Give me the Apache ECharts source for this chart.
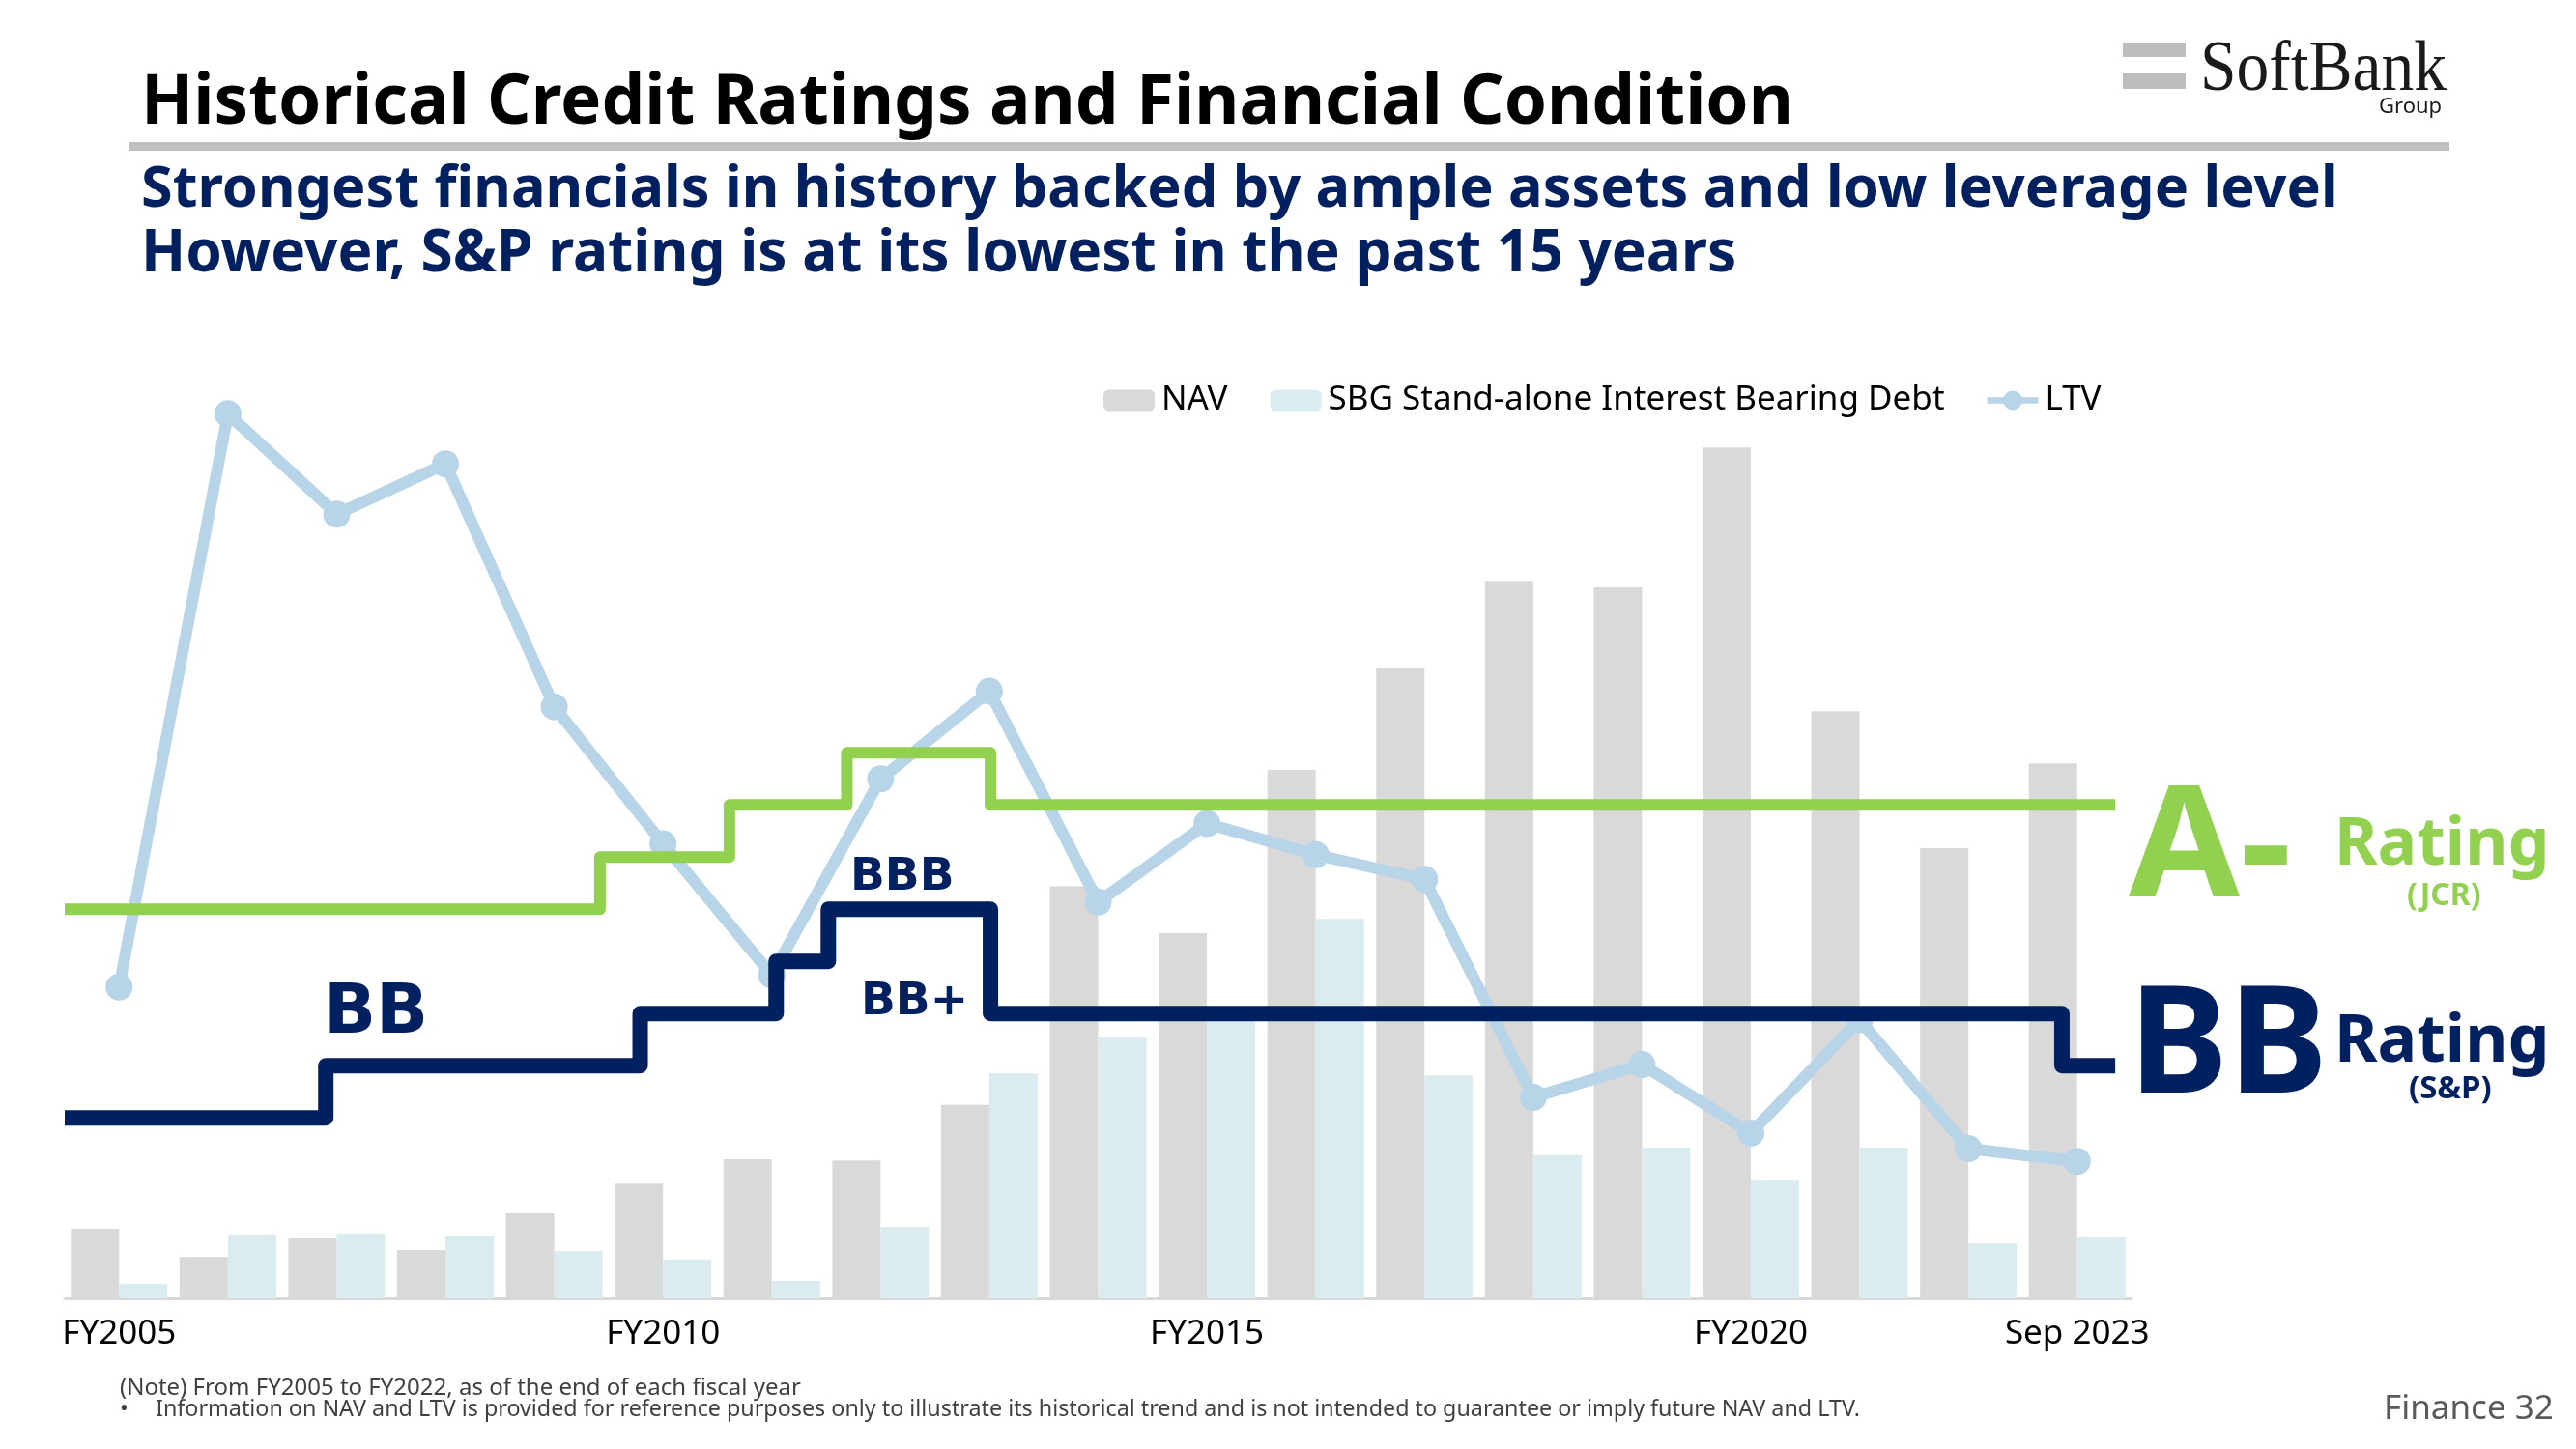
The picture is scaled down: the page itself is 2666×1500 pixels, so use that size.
<!DOCTYPE html>
<html>
<head>
<meta charset="utf-8">
<script src="https://cdn.jsdelivr.net/npm/echarts@6/dist/echarts.min.js"></script>
<style>
  html, body { margin: 0; padding: 0; background: #ffffff; }
  #chart { width: 2666px; height: 1500px; }
</style>
</head>
<body>
<div id="chart"></div>
<script>
// ---- Data ----
const categories = ['FY2005','FY2006','FY2007','FY2008','FY2009','FY2010','FY2011','FY2012','FY2013','FY2014',
                    'FY2015','FY2016','FY2017','FY2018','FY2019','FY2020','FY2021','FY2022','Sep 2023'];
const tickLabels = ['FY2005','FY2010','FY2015','FY2020','Sep 2023'];
// NAV and stand-alone debt (trillion yen, estimated)
const navValues  = [2.13, 1.27, 1.84, 1.48, 2.61, 3.52, 4.27, 4.23, 5.93, 12.64,
                    11.2, 16.21, 19.32, 22.01, 21.81, 26.1, 18.01, 13.81, 16.41];
const debtValues = [0.44, 1.96, 1.99, 1.90, 1.45, 1.19, 0.53, 2.19, 6.9, 8.0,
                    8.95, 11.64, 6.84, 4.39, 4.62, 3.61, 4.62, 1.69, 1.87];
// LTV (estimated, arbitrary % scale)
const ltvValues  = [34.1, 96.9, 85.9, 91.4, 64.8, 49.8, 35.4, 56.9, 66.5, 43.4,
                    52.0, 48.6, 45.9, 22.0, 25.6, 18.1, 30.5, 16.4, 15.0];
// Rating notch scale
const ratingScale = ['BB-','BB','BB+','BBB-','BBB','BBB+','A-','A'];
// JCR rating history (position in category units, rating from that point)
const jcrSteps   = [-0.5, 4.42, 5.61, 6.69, 8.01, 18.35];
const jcrRatings = ['BBB','BBB+','A-','A','A-','A-'];
// S&P rating history
const spSteps    = [-0.5, 1.90, 4.79, 6.04, 6.52, 8.01, 17.86, 18.35];
const spRatings  = ['BB-','BB','BB+','BBB-','BBB','BB+','BB','BB'];

// ---- Build ----
const notch = r => ratingScale.indexOf(r) + 1;
const jcrData = jcrSteps.map((x, i) => [x, notch(jcrRatings[i])]);
const spData  = spSteps.map((x, i) => [x, notch(spRatings[i])]);

const NAVY = '#002060';
const GREEN = '#92d050';
const LTVC = '#b7d4e8';
const SANS = '"Noto Sans", "DejaVu Sans", sans-serif';
const WIDE = '"DejaVu Sans", "Noto Sans", sans-serif';

const chart = echarts.init(document.getElementById('chart'), null, { renderer: 'canvas' });

function txt(text, x, y, size, color, weight, family, extra) {
  return Object.assign({
    type: 'text', x: x, y: y, silent: true,
    style: { text: text, x: 0, y: 0, fill: color, font: (weight || 'normal') + ' ' + size + 'px ' + (family || SANS),
             textAlign: 'left', textVerticalAlign: 'middle', verticalAlign: 'middle' }
  }, extra || {});
}

const ltvIcon = 'path://M0,8 L64,8 L64,16 L0,16 Z M32,0 A12,12 0 1 1 31.99,0 Z';

const option = {
  animation: false,
  backgroundColor: '#ffffff',
  grid: { left: 67, right: 460, top: 399, bottom: 156, containLabel: false },
  legend: {
    left: 1137, top: 392,
    itemWidth: 53, itemHeight: 22, itemGap: 44,
    textStyle: { fontFamily: SANS, fontSize: 35, color: '#000000', padding: [0, 0, 0, 2] },
    data: [
      { name: 'NAV' },
      { name: 'SBG Stand-alone Interest Bearing Debt' },
      { name: 'LTV', icon: ltvIcon, itemStyle: { color: LTVC } }
    ]
  },
  xAxis: [
    {
      type: 'category', data: categories, gridIndex: 0,
      axisLine: { show: true, lineStyle: { color: '#d9d9d9', width: 3 } },
      axisTick: { show: false },
      axisLabel: {
        interval: 0, margin: 20, color: '#000000', fontFamily: SANS, fontSize: 35,
        formatter: v => tickLabels.indexOf(v) >= 0 ? v : ''
      },
      splitLine: { show: false }
    },
    { type: 'value', min: -0.5, max: 18.5, show: false, gridIndex: 0 }
  ],
  yAxis: [
    { type: 'value', min: 0, max: 28, show: false, splitLine: { show: false } },
    { type: 'value', min: 0, max: 100, show: false, splitLine: { show: false } },
    { type: 'value', min: -2.46, max: 15.04, show: false, splitLine: { show: false } }
  ],
  series: [
    {
      name: 'NAV', type: 'bar', data: navValues, barWidth: 50, barGap: '0%',
      itemStyle: { color: '#d9d9d9' }, z: 1, silent: true
    },
    {
      name: 'SBG Stand-alone Interest Bearing Debt', type: 'bar', data: debtValues, barWidth: 50, barGap: '0%',
      itemStyle: { color: '#daecef' }, z: 1, silent: true
    },
    {
      name: 'LTV', type: 'line', data: ltvValues, yAxisIndex: 1,
      symbol: 'circle', symbolSize: 28,
      lineStyle: { color: LTVC, width: 12 },
      itemStyle: { color: LTVC }, z: 3, silent: true
    },
    {
      name: 'JCR', type: 'line', data: jcrData, xAxisIndex: 1, yAxisIndex: 2, step: 'end',
      showSymbol: false, symbol: 'none',
      lineStyle: { color: GREEN, width: 12, join: 'round', cap: 'butt' }, z: 5, silent: true
    },
    {
      name: 'S&P', type: 'line', data: spData, xAxisIndex: 1, yAxisIndex: 2, step: 'end',
      showSymbol: false, symbol: 'none',
      lineStyle: { color: NAVY, width: 16, join: 'round', cap: 'butt' }, z: 5, silent: true
    }
  ],
  graphic: [
    // header
    txt('Historical Credit Ratings and Financial Condition', 146, 108, 71, '#000000', 'bold'),
    { type: 'rect', silent: true, shape: { x: 134, y: 147, width: 2401, height: 9 }, style: { fill: '#bfbfbf' } },
    txt('Strongest financials in history backed by ample assets and low leverage level', 146, 197, 59.4, NAVY, 'bold'),
    txt('However, S&P rating is at its lowest in the past 15 years', 146, 264, 60.3, NAVY, 'bold'),
    // logo
    { type: 'rect', silent: true, shape: { x: 2197, y: 44, width: 65, height: 15 }, style: { fill: '#bdbdbd' } },
    { type: 'rect', silent: true, shape: { x: 2197, y: 76, width: 65, height: 16 }, style: { fill: '#bdbdbd' } },
    { type: 'text', silent: true, x: 2277, y: 73, scaleX: 0.9,
      style: { text: 'SoftBank', x: 0, y: 0, fill: '#1a1a1a', font: 'normal 75px "Liberation Serif", serif',
               textAlign: 'left', verticalAlign: 'middle', textVerticalAlign: 'middle' } },
    txt('Group', 2462, 111, 22, '#1a1a1a', 'normal'),
    // chart annotations
    txt('BB', 335, 1051, 71, NAVY, 'bold', WIDE),
    txt('BBB', 880, 909, 47, NAVY, 'bold', WIDE),
    txt('BB+', 891, 1038, 47, NAVY, 'bold', WIDE),
    // right-side rating labels
    txt('A-', 2203, 882, 160, GREEN, 'bold', SANS, { scaleX: 1.04 }),
    txt('Rating', 2416, 876, 68, GREEN, 'bold'),
    txt('(JCR)', 2491, 928, 32, GREEN, 'bold'),
    txt('BB', 2203, 1087, 155, NAVY, 'bold'),
    txt('Rating', 2416, 1080, 68, NAVY, 'bold'),
    txt('(S&P)', 2493, 1128, 33, NAVY, 'bold'),
    // footnotes
    txt('(Note) From FY2005 to FY2022, as of the end of each fiscal year', 124, 1437, 24, '#404040', 'normal'),
    txt('\u2022', 124, 1459, 23.3, '#404040', 'normal'),
    txt('Information on NAV and LTV is provided for reference purposes only to illustrate its historical trend and is not intended to guarantee or imply future NAV and LTV.', 161, 1459, 23.3, '#404040', 'normal'),
    txt('Finance 32', 2467, 1459, 35, '#595959', 'normal')
  ]
};
chart.setOption(option);
</script>
</body>
</html>
